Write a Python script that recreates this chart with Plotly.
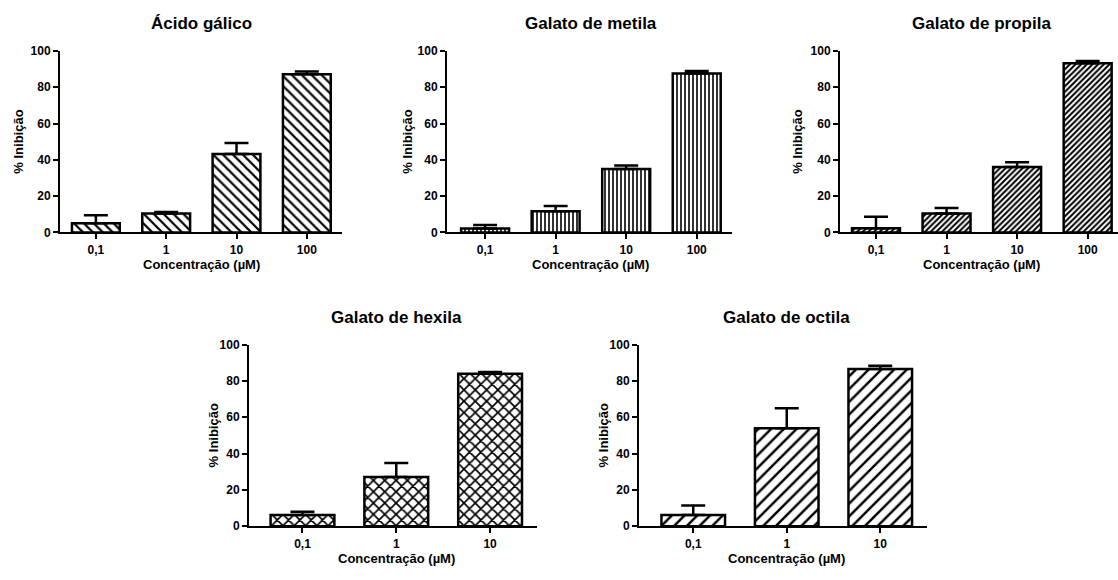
import plotly.graph_objects as go

# ---- data ----
conc4 = ["0,1", "1", "10", "100"]
conc3 = ["0,1", "1", "10"]

titles = ["Ácido gálico", "Galato de metila", "Galato de propila",
          "Galato de hexila", "Galato de octila"]

acido_vals = [5.0, 10.4, 43.2, 87.1]
acido_err = [4.5, 0.9, 6.1, 1.6]
metila_vals = [2.2, 11.7, 35.0, 87.5]
metila_err = [1.9, 2.8, 1.9, 1.5]
propila_vals = [2.3, 10.4, 36.0, 93.2]
propila_err = [6.3, 3.0, 2.7, 1.2]
hexila_vals = [6.2, 27.1, 83.9]
hexila_err = [1.8, 7.7, 1.1]
octila_vals = [6.2, 53.9, 86.6]
octila_err = [5.2, 11.1, 1.8]

yticks = [0, 20, 40, 60, 80, 100]
xlabel = "Concentração (µM)"
ylabel = "% Inibição"

# ---- layout geometry (pixels) ----
W, H = 1118, 580
FONT = "Liberation Sans, Arial, sans-serif"

panels = [
    dict(v=acido_vals, e=acido_err, c=conc4, shape="\\", size=7, sol=0.32,
         xd=(60, 342), xr=(-0.51, 3.5), yd=(45, 231), ylx=19),
    dict(v=metila_vals, e=metila_err, c=conc4, shape="|", size=4, sol=0.4,
         xd=(447, 732), xr=(-0.54, 3.5), yd=(45, 231), ylx=408),
    dict(v=propila_vals, e=propila_err, c=conc4, shape="/", size=4, sol=0.5,
         xd=(840, 1118), xr=(-0.51, 3.43), yd=(45, 231), ylx=798),
    dict(v=hexila_vals, e=hexila_err, c=conc3, shape="x", size=8, sol=0.38,
         xd=(249, 537), xr=(-0.57, 2.5), yd=(346, 532), ylx=213),
    dict(v=octila_vals, e=octila_err, c=conc3, shape="/", size=9, sol=0.27,
         xd=(639, 927), xr=(-0.58, 2.5), yd=(346, 532), ylx=603),
]

fig = go.Figure()
annotations = []
layout_axes = {}

for i, p in enumerate(panels):
    n = i + 1
    xa = "x" if n == 1 else f"x{n}"
    ya = "y" if n == 1 else f"y{n}"
    xs = list(range(len(p["c"])))
    fig.add_trace(go.Bar(
        x=xs, y=p["v"], xaxis=xa, yaxis=ya,
        marker=dict(color="white", line=dict(color="black", width=2.5),
                    pattern=dict(shape=p["shape"], size=p["size"], solidity=p["sol"],
                                 fgcolor="black", fgopacity=1, bgcolor="white",
                                 fillmode="replace")),
        error_y=dict(type="data", array=p["e"], arrayminus=[0] * len(p["e"]),
                     symmetric=False, color="black", thickness=2.5, width=12),
        width=0.68, showlegend=False,
    ))
    xkey = "xaxis" if n == 1 else f"xaxis{n}"
    ykey = "yaxis" if n == 1 else f"yaxis{n}"
    layout_axes[xkey] = dict(
        domain=[p["xd"][0] / W, p["xd"][1] / W], range=list(p["xr"]),
        anchor=ya, tickvals=xs, ticktext=p["c"], showline=True, linecolor="black",
        linewidth=2, ticks="outside", ticklen=5, tickwidth=2, tickcolor="black",
        showgrid=False, zeroline=False, fixedrange=True,
        tickfont=dict(family=FONT, size=12, color="black", weight="bold"),
    )
    layout_axes[ykey] = dict(
        domain=[1 - p["yd"][1] / H, 1 - p["yd"][0] / H], range=[0, 100],
        anchor=xa, tickvals=yticks, showline=True, linecolor="black", linewidth=2,
        ticks="outside", ticklen=5, tickwidth=2, tickcolor="black",
        showgrid=False, zeroline=False, fixedrange=True,
        tickfont=dict(family=FONT, size=12, color="black", weight="bold"),
    )
    nc = len(p["c"])
    mid = (nc - 1) / 2
    top_px = p["yd"][0]
    bot_px = p["yd"][1]
    annotations.append(dict(
        text=titles[i], xref=xa, x=mid, yref="paper", y=1 - (top_px - 28) / H,
        showarrow=False, xanchor="center", yanchor="middle",
        font=dict(family=FONT, size=17, color="black", weight="bold")))
    annotations.append(dict(
        text=xlabel, xref=xa, x=mid, yref="paper", y=1 - (bot_px + 33) / H,
        showarrow=False, xanchor="center", yanchor="middle",
        font=dict(family=FONT, size=13, color="black", weight="bold")))
    annotations.append(dict(
        text=ylabel, xref="paper", x=p["ylx"] / W, yref="paper",
        y=1 - ((top_px + bot_px) / 2) / H, textangle=-90,
        showarrow=False, xanchor="center", yanchor="middle",
        font=dict(family=FONT, size=13, color="black", weight="bold")))

fig.update_layout(
    width=W, height=H, margin=dict(l=0, r=0, t=0, b=0),
    paper_bgcolor="white", plot_bgcolor="white",
    bargap=0.32, annotations=annotations, **layout_axes,
)

fig.write_html("out.html", config={"displayModeBar": False},
               post_script="document.body.style.margin='0';document.body.style.overflow='hidden';")
